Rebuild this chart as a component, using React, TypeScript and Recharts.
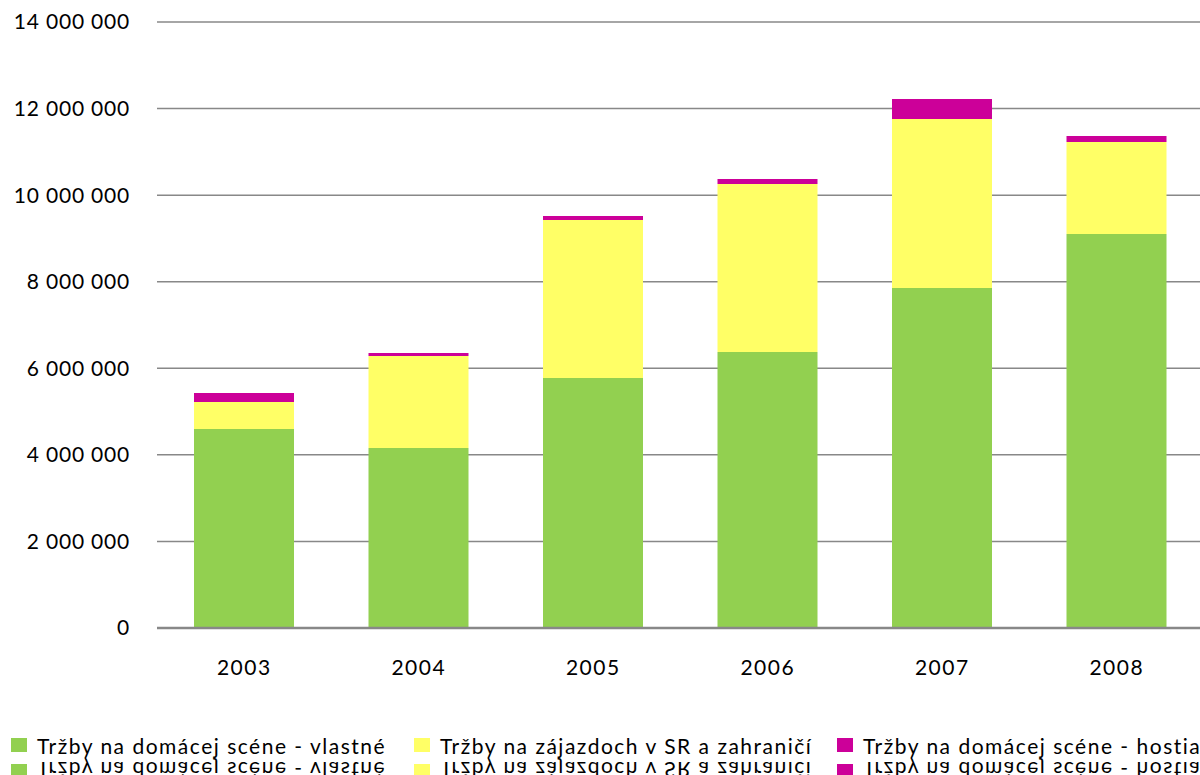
import React from "react";
import { BarChart, Bar, XAxis, YAxis, CartesianGrid, ReferenceLine } from "recharts";

const years = ["2003", "2004", "2005", "2006", "2007", "2008"];
const vlastne = [4600000, 4158000, 5775000, 6376000, 7854000, 9101000];
const zajazdy = [622000, 2125000, 3650000, 3881000, 3904000, 2126000];
const hostia = [207000, 70000, 92000, 115000, 462000, 138000];
const yTicks = [0, 2000000, 4000000, 6000000, 8000000, 10000000, 12000000, 14000000];

const seriesNames = [
  "Tržby na domácej scéne - vlastné",
  "Tržby na zájazdoch v SR a zahraničí",
  "Tržby na domácej scéne - hostia",
];
const seriesColors = ["#92D050", "#FFFF66", "#CC0099"];
const legendLeft = [11, 414, 837];

const data = years.map((year, i) => ({
  year,
  vlastne: vlastne[i],
  zajazdy: zajazdy[i],
  hostia: hostia[i],
}));

const FONT = "Lato, 'Open Sans', sans-serif";

function fmt(v: number) {
  return String(v).replace(/\B(?=(\d{3})+(?!\d))/g, " ");
}

function LegendRow({ top, mirrored }: { top: number; mirrored?: boolean }) {
  return (
    <div
      style={{
        position: "absolute",
        top,
        left: 0,
        width: 1200,
        height: 24,
        transform: mirrored ? "scaleY(-1)" : undefined,
      }}
    >
      {seriesNames.map((name, i) => (
        <div
          key={name}
          style={{
            position: "absolute",
            left: legendLeft[i],
            top: 0,
            height: 24,
            display: "flex",
            alignItems: "center",
            whiteSpace: "nowrap",
            fontFamily: FONT,
            fontSize: 21,
            letterSpacing: 1.5,
            color: "#000",
          }}
        >
          <span
            style={{
              display: "inline-block",
              width: 16,
              height: 14,
              background: seriesColors[i],
              marginRight: 10,
            }}
          />
          {name}
        </div>
      ))}
    </div>
  );
}

export default function App() {
  return (
    <div
      style={{
        position: "absolute",
        top: 0,
        left: 0,
        width: 1200,
        height: 775,
        overflow: "hidden",
        background: "#fff",
      }}
    >
      <BarChart
        width={1204}
        height={775}
        data={data}
        margin={{ top: 22, right: 0, left: 0, bottom: 87 }}
      >
        <CartesianGrid vertical={false} stroke="#888888" strokeWidth={1.5} />
        <XAxis
          dataKey="year"
          axisLine={false}
          tickLine={false}
          tickSize={0}
          tickMargin={32}
          height={60}
          tick={{ fontSize: 21, fontFamily: FONT, fill: "#000", letterSpacing: 1.5 }}
        />
        <YAxis
          width={157}
          domain={[0, 14000000]}
          ticks={yTicks}
          axisLine={false}
          tickLine={false}
          tickSize={0}
          tickMargin={27}
          tickFormatter={fmt}
          tick={{ fontSize: 21, fontFamily: FONT, fill: "#000", letterSpacing: 0.8 }}
        />
        <Bar dataKey="vlastne" stackId="a" fill={seriesColors[0]} barSize={100} isAnimationActive={false} />
        <Bar dataKey="zajazdy" stackId="a" fill={seriesColors[1]} barSize={100} isAnimationActive={false} />
        <Bar dataKey="hostia" stackId="a" fill={seriesColors[2]} barSize={100} isAnimationActive={false} />
        <ReferenceLine y={0} stroke="#888888" strokeWidth={2.5} />
      </BarChart>
      <LegendRow top={733} />
      <LegendRow top={759} mirrored />
    </div>
  );
}
